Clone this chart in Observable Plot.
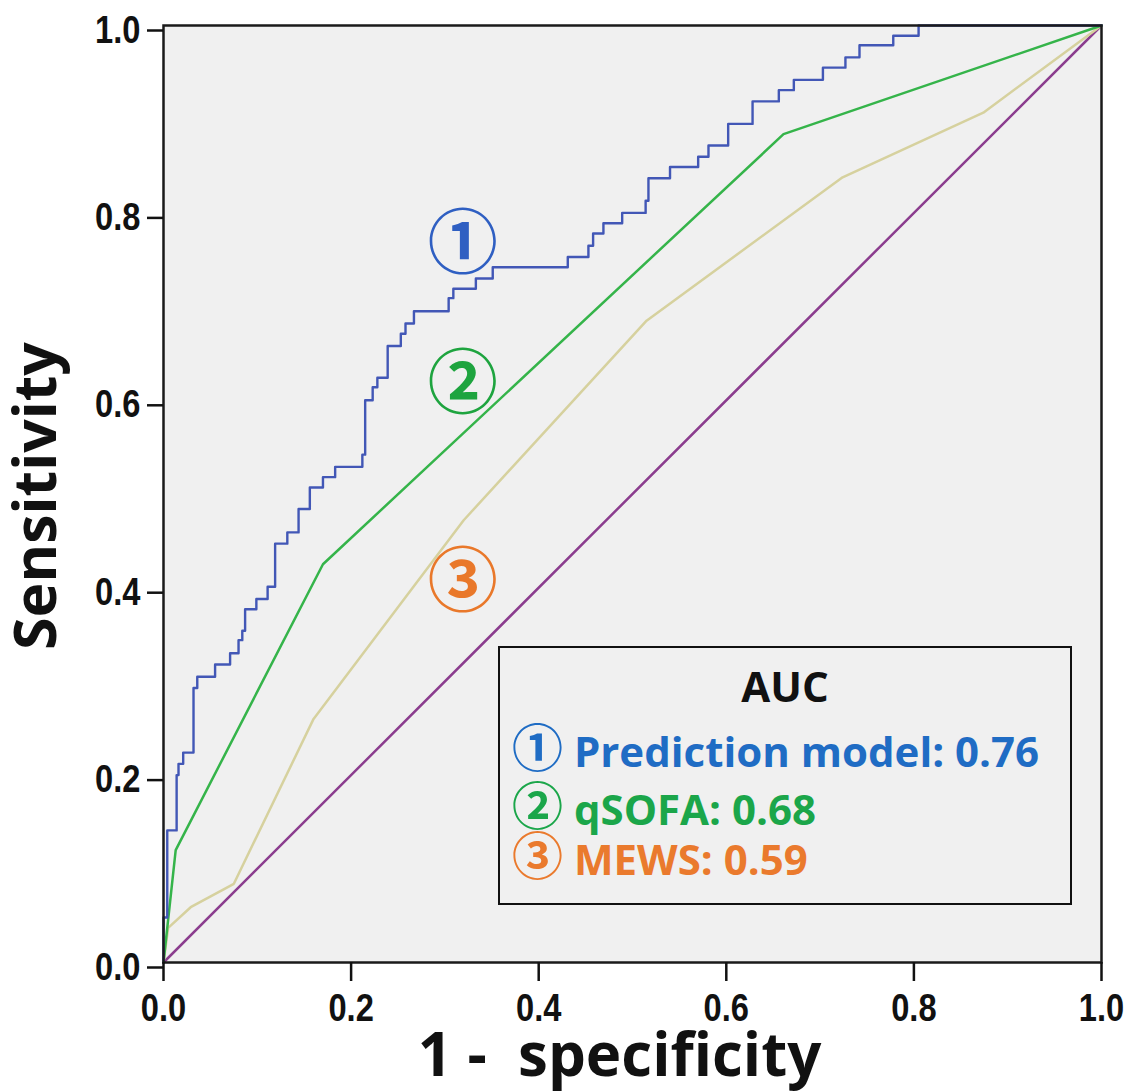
<!DOCTYPE html>
<html>
<head>
<meta charset="utf-8">
<script src="https://cdn.jsdelivr.net/npm/d3@7"></script>
<script src="https://cdn.jsdelivr.net/npm/@observablehq/plot@0.6"></script>
<style>
  body { margin: 0; background: #fff; }
  #wrap { position: relative; width: 1145px; height: 1091px; }
  #legend {
    position: absolute; left: 498px; top: 646px; width: 574px; height: 259px;
    box-sizing: border-box; border: 2.5px solid #111;
    font-family: "Open Sans", Lato, sans-serif; font-weight: bold; font-size: 42px;
  }
  #legend .row { position: absolute; left: 12px; line-height: 42px; white-space: pre; }
  #legend .title { position: absolute; left: 0; right: 0; text-align: center; line-height: 42px; color: #111; }
  #legend .c { font-family: "Noto Sans CJK JP", "DejaVu Sans", sans-serif; font-weight: bold; font-size: 51px; line-height: 42px; }
</style>
</head>
<body>
<div id="wrap">
  <div id="chart"></div>
  <div id="legend"></div>
</div>
<script>
// ---- Data ----
// Prediction model ROC (step curve): 1 - specificity, sensitivity
const modelFpr = [0, 0.000, 0.004, 0.014, 0.016, 0.021, 0.032, 0.036, 0.055, 0.071, 0.080, 0.084, 0.087, 0.099, 0.111, 0.119, 0.119,
  0.132, 0.144, 0.156, 0.170, 0.183, 0.212, 0.215, 0.223, 0.228, 0.239, 0.253, 0.258, 0.267, 0.304, 0.309, 0.333, 0.351,
  0.431, 0.453, 0.458, 0.469, 0.489, 0.514, 0.517, 0.540, 0.570, 0.581, 0.602, 0.628, 0.656, 0.672, 0.703, 0.727, 0.742,
  0.778, 0.805, 1.0];
const modelTpr = [0, 0.048, 0.141, 0.200, 0.212, 0.224, 0.293, 0.305, 0.318, 0.330, 0.344, 0.354, 0.377, 0.388, 0.401, 0.424, 0.447,
  0.459, 0.484, 0.507, 0.518, 0.529, 0.542, 0.600, 0.614, 0.624, 0.658, 0.671, 0.682, 0.695, 0.709, 0.719, 0.730, 0.742,
  0.753, 0.765, 0.778, 0.789, 0.800, 0.813, 0.837, 0.849, 0.860, 0.872, 0.895, 0.919, 0.931, 0.942, 0.955, 0.966, 0.979,
  0.989, 1.000, 1.0];
// qSOFA ROC
const qsofaFpr = [0, 0.013, 0.170, 0.661, 1];
const qsofaTpr = [0, 0.120, 0.425, 0.884, 1];
// MEWS ROC
const mewsFpr = [0, 0.005, 0.029, 0.075, 0.160, 0.320, 0.515, 0.724, 0.874, 1];
const mewsTpr = [0, 0.037, 0.059, 0.084, 0.260, 0.472, 0.685, 0.838, 0.907, 1];
// Reference diagonal
const refFpr = [0, 1];
const refTpr = [0, 1];
// Axis ticks
const ticks = [0, 0.2, 0.4, 0.6, 0.8, 1.0];
// Curve labels placed on the chart
const labelText = ["①", "②", "③"];
const labelX = [0.319, 0.319, 0.319];
const labelY = [0.765, 0.616, 0.404];
const labelColor = ["#2f5fc2", "#1ea43f", "#e9782a"];
// Legend
const legendTitle = "AUC";
const legendNames = ["Prediction model", "qSOFA", "MEWS"];
const legendAUC = ["0.76", "0.68", "0.59"];
const legendColor = ["#1f6cc4", "#1ba64a", "#ea7a2d"];

const toPts = (xs, ys) => xs.map((x, i) => ({x, y: ys[i]}));
const labels = labelText.map((t, i) => ({t, x: labelX[i], y: labelY[i], c: labelColor[i]}));

const tickFont = '"Liberation Sans Narrow", "Liberation Sans", Arial, sans-serif';
const titleFont = '"Open Sans", Lato, sans-serif';

const chart = Plot.plot({
  width: 1145, height: 1091,
  marginLeft: 163, marginRight: 44, marginTop: 25, marginBottom: 129,
  x: {domain: [0, 1]},
  y: {domain: [0, 1]},
  style: {fontFamily: tickFont, fontSize: "38px", fontWeight: "bold", color: "#111", background: "transparent", overflow: "visible"},
  marks: [
    Plot.frame({fill: "#f0f0f0"}),
    Plot.line(toPts(refFpr, refTpr), {x: "x", y: "y", stroke: "#8b3d8e", strokeWidth: 2.5}),
    Plot.line(toPts(mewsFpr, mewsTpr), {x: "x", y: "y", stroke: "#d6d19e", strokeWidth: 2.5}),
    Plot.line(toPts(qsofaFpr, qsofaTpr), {x: "x", y: "y", stroke: "#35b44a", strokeWidth: 2.5}),
    Plot.line(toPts(modelFpr, modelTpr), {x: "x", y: "y", curve: "step-after", stroke: "#4257b6", strokeWidth: 2.4}),
    Plot.text(labels, {x: "x", y: "y", text: "t", fill: "c", fontSize: 70, fontWeight: "bold", fontFamily: '"Noto Sans CJK JP", "DejaVu Sans", sans-serif'}),
    Plot.frame({stroke: "#1a1a1a", strokeWidth: 2.5}),
    Plot.axisX({ticks, tickFormat: ".1f", tickSize: 19, tickPadding: 13, strokeWidth: 2.5, stroke: "#111", label: null}),
    Plot.axisY({ticks, tickFormat: ".1f", tickSize: 16, tickPadding: 7, strokeWidth: 2.5, stroke: "#111", dy: 5, label: null}),
    Plot.text(["1 -  specificity"], {ariaLabel: "axis title", frameAnchor: "bottom", textAnchor: "middle", dx: -13, dy: 113, lineAnchor: "bottom", fontSize: 60, fontWeight: "bold", fontFamily: titleFont, fill: "#111"}),
    Plot.text(["Sensitivity"], {ariaLabel: "axis title", frameAnchor: "left", textAnchor: "middle", dx: -108, dy: 2, lineAnchor: "bottom", rotate: -90, fontSize: 59, fontWeight: "bold", fontFamily: titleFont, fill: "#111"})
  ]
});
document.getElementById("chart").appendChild(chart);

// Axis titles: slightly wider letter spacing, like the reference
chart.querySelectorAll('g[aria-label="axis title"] text').forEach(t => {
  t.style.letterSpacing = "3.2px";
  t.style.whiteSpace = "pre";
});
// Tick labels: narrow figures, as in the reference
chart.querySelectorAll('g[aria-label$="tick label"] text').forEach(t => {
  const tr = t.getAttribute("transform") || "";
  t.setAttribute("transform", tr + " scale(0.86,1)");
});

// Legend box
const legend = document.getElementById("legend");
const title = document.createElement("div");
title.className = "title";
title.style.top = "17px";
title.textContent = legendTitle;
legend.appendChild(title);
const rowTops = [76, 134, 184];
legendNames.forEach((name, i) => {
  const row = document.createElement("div");
  row.className = "row";
  row.style.top = rowTops[i] + "px";
  row.style.color = legendColor[i];
  const c = document.createElement("span");
  c.className = "c";
  c.textContent = labelText[i];
  row.appendChild(c);
  row.appendChild(document.createTextNode(" " + name + ": " + legendAUC[i]));
  legend.appendChild(row);
});
</script>
</body>
</html>
